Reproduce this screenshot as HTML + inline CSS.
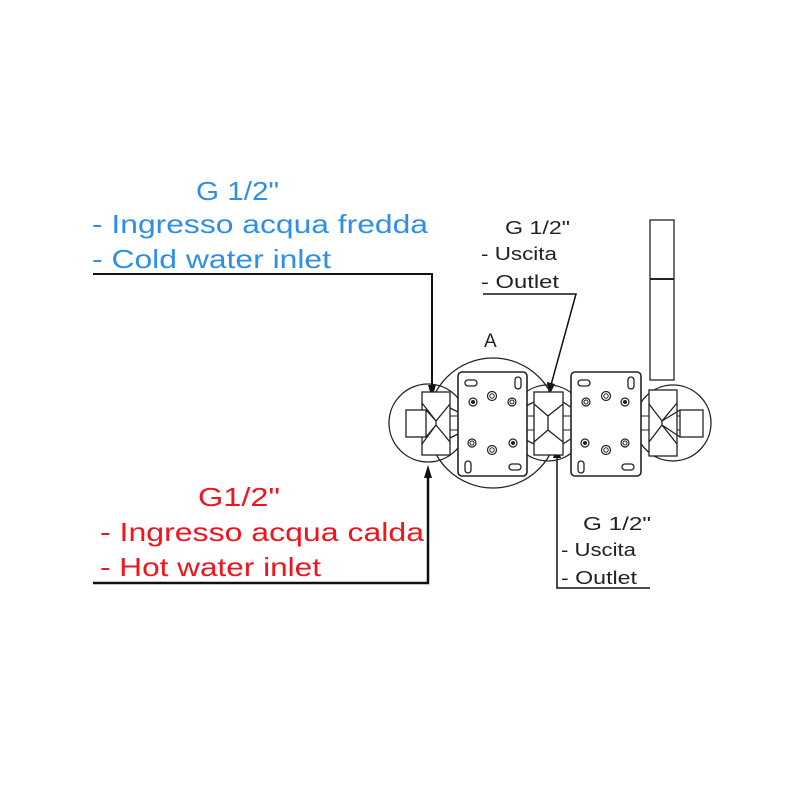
<!DOCTYPE html>
<html><head><meta charset="utf-8"><style>html,body{margin:0;padding:0;background:#fff}svg{display:block}</style></head>
<body>
<svg width="800" height="800" viewBox="0 0 800 800" xmlns="http://www.w3.org/2000/svg" font-family="Liberation Sans, sans-serif">
<rect width="800" height="800" fill="#fff"/>
<g font-size="26" fill="#2f8fe8">
<text x="196" y="200" textLength="83" lengthAdjust="spacingAndGlyphs">G 1/2"</text>
<text x="92" y="233" textLength="336" lengthAdjust="spacingAndGlyphs">- Ingresso acqua fredda</text>
<text x="92" y="268" textLength="239" lengthAdjust="spacingAndGlyphs">- Cold water inlet</text>
</g>
<g font-size="26" fill="#f0141e">
<text x="198" y="506" textLength="82" lengthAdjust="spacingAndGlyphs">G1/2"</text>
<text x="100" y="541" textLength="324" lengthAdjust="spacingAndGlyphs">- Ingresso acqua calda</text>
<text x="100" y="576" textLength="221" lengthAdjust="spacingAndGlyphs">- Hot water inlet</text>
</g>
<g font-size="18" fill="#222">
<text x="505" y="234" textLength="65" lengthAdjust="spacingAndGlyphs">G 1/2"</text>
<text x="481" y="260" textLength="76" lengthAdjust="spacingAndGlyphs">- Uscita</text>
<text x="481" y="288" textLength="78" lengthAdjust="spacingAndGlyphs">- Outlet</text>
<text x="583" y="530" textLength="68" lengthAdjust="spacingAndGlyphs">G 1/2"</text>
<text x="561" y="556" textLength="75" lengthAdjust="spacingAndGlyphs">- Uscita</text>
<text x="561" y="584" textLength="76" lengthAdjust="spacingAndGlyphs">- Outlet</text>
<text x="484" y="347" font-size="19">A</text>
</g>
<g stroke="#111" fill="none" stroke-width="1.5">
<polyline points="93,274 432,274 432,385" stroke-width="2"/>
<polyline points="93,583 428,583 428,478" stroke-width="2.5"/>
<polyline points="483,294 576,294 551,385"/>
<polyline points="557,455 557,588 650,588"/>
</g>
<g fill="#111">
<polygon points="428,385 436,385 432,398"/>
<polygon points="424,478 432,478 428,465"/>
<polygon points="547,382 555,384 549,396"/>
<polygon points="553,458 561,458 557,445"/>
</g>
<g stroke="#222" fill="none" stroke-width="1.3">
<rect x="650" y="220" width="24" height="160" fill="#fff"/>
<line x1="650" y1="279" x2="674" y2="279" stroke-width="2"/>
<circle cx="428" cy="423" r="39"/>
<circle cx="548" cy="423" r="38"/>
<circle cx="493" cy="423" r="65"/>
<circle cx="673" cy="423" r="38" fill="#fff"/>
<rect x="440" y="416" width="240" height="14" fill="#fff" stroke-width="1"/>
<!-- left fitting -->
<rect x="422" y="392" width="28" height="63" fill="#fff"/>
<rect x="406" y="410" width="20" height="27" fill="#fff"/>
<path d="M422,403 L436,421 L436,425 L422,444 M450,404 L436,421 M450,442 L436,425 M426,410 L436,421 M426,437 L436,425"/>
<path d="M450,408 L458,412 M450,438 L458,434"/>
<!-- middle fitting -->
<rect x="534" y="392" width="29" height="63" fill="#fff"/>
<path d="M534,404 L548,416 L563,404 M534,442 L548,430 L563,442 M548,416 L548,430"/>
<path d="M526,406 L534,402 M526,440 L534,444 M563,402 L572,408 M563,444 L572,438"/>
<!-- right fitting -->
<rect x="649" y="390" width="28" height="66" fill="#fff"/>
<rect x="680" y="410" width="23" height="27" fill="#fff"/>
<path d="M677,403 L662,421 L662,425 L677,444 M649,404 L662,421 M649,442 L662,425 M680,410 L662,421 M680,437 L662,425"/>
<!-- plates -->
<rect x="458" y="372" width="69" height="104" rx="4" fill="#fff" stroke-width="1.6"/>
<rect x="571" y="372" width="70" height="104" rx="4" fill="#fff" stroke-width="1.6"/>
<rect x="465" y="380" width="12" height="6" rx="3"/>
<rect x="515" y="377" width="6" height="12" rx="3"/>
<rect x="465" y="461" width="6" height="12" rx="3"/>
<rect x="509" y="464" width="12" height="6" rx="3"/>
<rect x="578" y="380" width="12" height="6" rx="3"/>
<rect x="628" y="377" width="6" height="12" rx="3"/>
<rect x="578" y="461" width="6" height="12" rx="3"/>
<rect x="622" y="464" width="12" height="6" rx="3"/>
</g>
<g stroke="#222" fill="#fff" stroke-width="1.2">
<circle cx="473" cy="402" r="4"/><circle cx="492" cy="396" r="4.5"/><circle cx="512" cy="402" r="4"/>
<circle cx="472" cy="443" r="4"/><circle cx="492" cy="450" r="4.5"/><circle cx="513" cy="443" r="4"/>
<circle cx="586" cy="402" r="4"/><circle cx="606" cy="396" r="4.5"/><circle cx="625" cy="402" r="4"/>
<circle cx="585" cy="443" r="4"/><circle cx="606" cy="450" r="4.5"/><circle cx="625" cy="443" r="4"/>
</g>
<g stroke="#222" fill="none" stroke-width="1">
<circle cx="492" cy="396" r="2.2"/><circle cx="512" cy="402" r="2"/><circle cx="472" cy="443" r="2"/><circle cx="492" cy="450" r="2.2"/>
<circle cx="606" cy="396" r="2.2"/><circle cx="586" cy="402" r="2"/><circle cx="625" cy="443" r="2"/><circle cx="606" cy="450" r="2.2"/>
</g>
<g fill="#222">
<circle cx="473" cy="402" r="2"/><circle cx="513" cy="443" r="2"/><circle cx="625" cy="402" r="2"/><circle cx="585" cy="443" r="2"/>
</g>
</svg>
</body></html>
